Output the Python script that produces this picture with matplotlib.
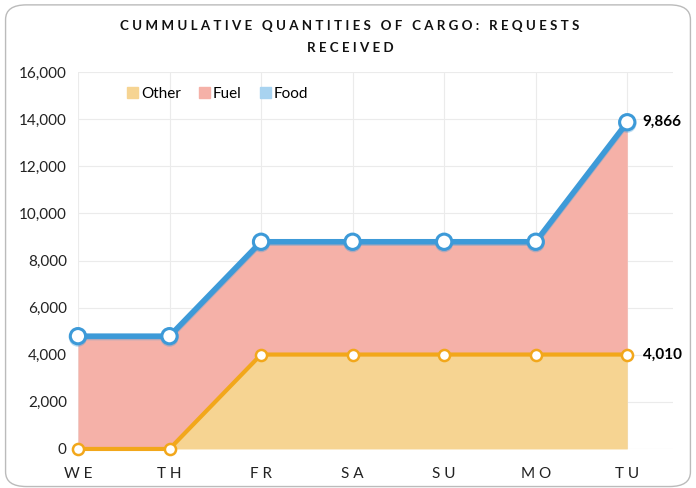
import matplotlib
matplotlib.use("Agg")
import matplotlib.pyplot as plt
import matplotlib.patheffects as pe
from matplotlib.patches import FancyBboxPatch, Patch
import numpy as np

# datos
days = ["WE", "TH", "FR", "SA", "SU", "MO", "TU"]
other = [0, 0, 4010, 4010, 4010, 4010, 4010]
fuel = [4790, 4790, 4790, 4790, 4790, 4790, 9866]
food = [0, 0, 0, 0, 0, 0, 0]

plt.rcParams['font.family'] = ['Lato', 'DejaVu Sans']

c_other_fill = "#F6D492"
c_other_line = "#F2A71B"
c_fuel_fill = "#F5B1A8"
c_food_line = "#3D9AD8"
c_food_leg = "#A8D3F0"

x = np.arange(len(days))
other = np.array(other)
fuel = np.array(fuel)
food = np.array(food)
top_fuel = other + fuel
top_food = top_fuel + food

fig = plt.figure(figsize=(6.96, 4.88), dpi=100)
fig.patches.append(FancyBboxPatch((0.008, 0.003), 0.984, 0.987, boxstyle="round,pad=0,rounding_size=0.03",
                                  transform=fig.transFigure, facecolor="white", edgecolor="#BBBBBB",
                                  lw=1, zorder=-5))
ax = fig.add_axes([0.112, 0.080, 0.855, 0.772])
ax.set_facecolor("none")

ax.fill_between(x, 0, other, color=c_other_fill, lw=0, zorder=2)
ax.fill_between(x, other, top_fuel, color=c_fuel_fill, lw=0, zorder=2)
ax.fill_between(x, top_fuel, top_food, color=c_food_leg, lw=0, zorder=2)

ax.plot(x, top_food, color=c_food_line, lw=4, marker='o', ms=11, mfc='white', mec=c_food_line,
        mew=2.2, zorder=5, clip_on=False,
        path_effects=[pe.SimpleLineShadow(offset=(0, -1), shadow_color=c_food_line, alpha=0.35, rho=1), pe.Normal()])
ax.plot(x, other, color=c_other_line, lw=3, marker='o', ms=8, mfc='white', mec=c_other_line,
        mew=1.8, zorder=4, clip_on=False)

ax.text(x[-1] + 0.17, top_food[-1], f"{fuel[-1]:,}", fontsize=11, fontweight='bold', va='center', ha='left')
ax.text(x[-1] + 0.17, other[-1], f"{other[-1]:,}", fontsize=11, fontweight='bold', va='center', ha='left')

ax.set_xlim(0, 6.5)
ax.set_ylim(0, 16000)
ax.set_yticks(np.arange(0, 16001, 2000))
ax.set_yticklabels([f"{v:,}" for v in range(0, 16001, 2000)], fontsize=11)
ax.set_xticks(x)
ax.set_xticklabels([" ".join(d) for d in days], fontsize=11)
ax.tick_params(length=0, pad=8, colors="#222222")
ax.tick_params(axis='x', pad=13)
ax.grid(True, color="#EBEBEB", lw=0.8, zorder=0)
ax.set_axisbelow(True)
for s in ax.spines.values():
    s.set_visible(False)

handles = [Patch(color=c_other_fill, label="Other"), Patch(color=c_fuel_fill, label="Fuel"),
           Patch(color=c_food_leg, label="Food")]
ax.legend(handles=handles, loc='upper left', bbox_to_anchor=(0.06, 0.997), ncol=3, frameon=False,
          fontsize=11, handlelength=0.7, handleheight=0.7, handletextpad=0.2, columnspacing=1.2)

fig.text(0.503, 0.946, "C U M M U L A T I V E   Q U A N T I T I E S   O F   C A R G O :   R E Q U E S T S",
         ha='center', va='center', fontsize=9.6, fontweight='bold', color="#111111")
fig.text(0.503, 0.902, "R E C E I V E D", ha='center', va='center', fontsize=9.6, fontweight='bold', color="#111111")

fig.savefig("out.png", dpi=100)
